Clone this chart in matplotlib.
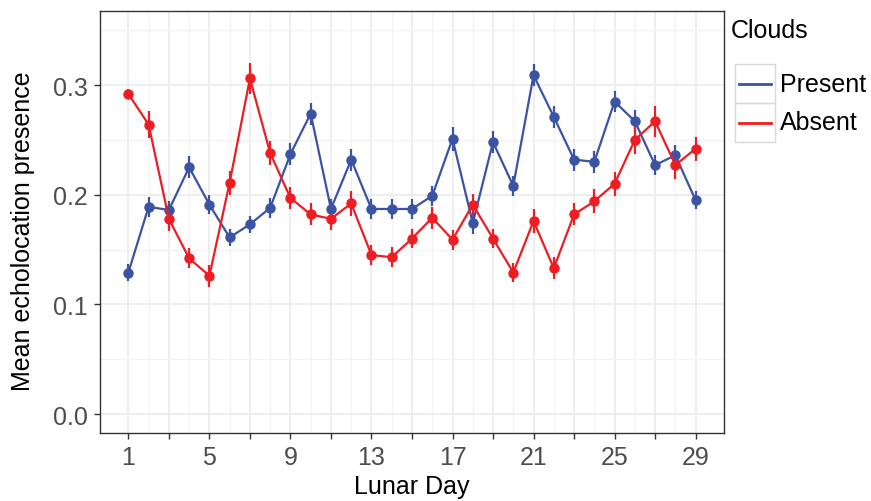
import matplotlib
matplotlib.use('Agg')
import matplotlib.pyplot as plt
from matplotlib.patches import Rectangle
from matplotlib.lines import Line2D
import numpy as np

plt.rcParams['font.family'] = ['Liberation Sans', 'DejaVu Sans']

days = np.arange(1, 30)

# Clouds present
present = [0.129, 0.189, 0.186, 0.225, 0.191, 0.161, 0.173, 0.188, 0.237, 0.274,
           0.187, 0.232, 0.187, 0.187, 0.187, 0.199, 0.251, 0.174, 0.248, 0.208,
           0.309, 0.271, 0.232, 0.230, 0.285, 0.267, 0.227, 0.236, 0.195]
present_se = [0.008, 0.009, 0.008, 0.010, 0.009, 0.008, 0.008, 0.009, 0.010, 0.010,
              0.009, 0.010, 0.009, 0.009, 0.009, 0.009, 0.011, 0.010, 0.010, 0.009,
              0.010, 0.010, 0.010, 0.010, 0.010, 0.010, 0.009, 0.009, 0.008]

# Clouds absent
absent = [0.292, 0.264, 0.178, 0.142, 0.126, 0.211, 0.306, 0.238, 0.197, 0.182,
          0.178, 0.192, 0.145, 0.143, 0.160, 0.179, 0.159, 0.191, 0.160, 0.129,
          0.176, 0.133, 0.182, 0.194, 0.210, 0.250, 0.267, 0.227, 0.242]
absent_se = [0.004, 0.012, 0.011, 0.009, 0.010, 0.011, 0.014, 0.011, 0.010, 0.010,
             0.010, 0.011, 0.009, 0.009, 0.009, 0.010, 0.009, 0.010, 0.009, 0.009,
             0.011, 0.010, 0.010, 0.011, 0.011, 0.013, 0.014, 0.013, 0.011]

blue = '#3A53A4'
red = '#EE1D23'
FS = 18

fig = plt.figure(figsize=(8.71, 5.02), dpi=100)
ax = fig.add_axes([0.1148, 0.1355, 0.7164, 0.8405])

for vals, se, col in [(present, present_se, blue), (absent, absent_se, red)]:
    ax.errorbar(days, vals, yerr=se, color=col, lw=1.6, marker='o', ms=6.5,
                elinewidth=1.6, capsize=0, zorder=3)

ax.set_xlim(-0.4, 30.4)
ax.set_ylim(-0.0173, 0.3675)

xt = np.arange(1, 30, 2)
ax.set_xticks(xt)
ax.set_xticklabels([str(d) if (d - 1) % 4 == 0 else '' for d in xt])
ax.set_xticks(np.arange(2, 30, 2), minor=True)
ax.set_yticks([0.0, 0.1, 0.2, 0.3])
ax.set_yticklabels(['0.0', '0.1', '0.2', '0.3'])
ax.set_yticks([0.05, 0.15, 0.25, 0.35], minor=True)

ax.grid(which='major', color='#EBEBEB', lw=1.2)
ax.grid(which='minor', color='#F2F2F2', lw=0.9)
ax.set_axisbelow(True)

ax.tick_params(which='major', direction='out', length=4.5, width=1, color='#333333',
               labelsize=FS, labelcolor='#4D4D4D', pad=4)
ax.tick_params(which='minor', length=0)
for s in ax.spines.values():
    s.set_color('#333333')
    s.set_linewidth(1)

ax.set_xlabel('Lunar Day', fontsize=FS, labelpad=4)
ax.set_ylabel('Mean echolocation presence', fontsize=FS)
ax.yaxis.set_label_coords(-0.104, 0.48)

# legend
fig.text(731 / 871, 1 - 31 / 502, 'Clouds', fontsize=FS, va='center', ha='left')
keys = [('Present', blue), ('Absent', red)]
for i, (lab, col) in enumerate(keys):
    y0 = 1 - (104 + 39 * i) / 502
    fig.patches.append(Rectangle((735 / 871, y0), 40 / 871, 39 / 502,
                                 transform=fig.transFigure, fill=False,
                                 edgecolor='#D9D9D9', lw=1))
    fig.lines.append(Line2D([739 / 871, 771 / 871], [y0 + 19.5 / 502] * 2,
                            transform=fig.transFigure, color=col, lw=2))
    fig.text(780 / 871, y0 + 19.5 / 502, lab, fontsize=FS, va='center', ha='left')

fig.savefig('out.png', dpi=100)
